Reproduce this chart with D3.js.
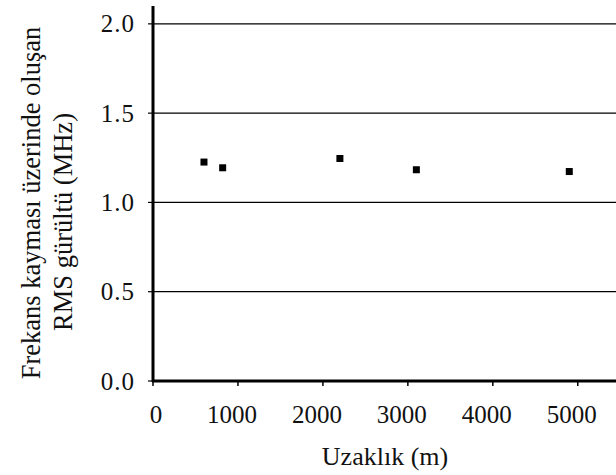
<!DOCTYPE html>
<html><head><meta charset="utf-8">
<script src="https://cdn.jsdelivr.net/npm/d3@7"></script>
<style>body{margin:0;background:#fff}svg{display:block}text{font-family:"Liberation Serif","Times New Roman",serif;fill:#111}</style>
</head><body><svg id="c" width="616" height="475"></svg>
<script>
const distances = [600, 820, 2200, 3100, 4900];
const rmsNoise = [1.226, 1.194, 1.246, 1.183, 1.173];
const xTicks = [0, 1000, 2000, 3000, 4000, 5000];
const yTicks = [0.0, 0.5, 1.0, 1.5, 2.0];
const xTitle = "Uzaklık (m)";
const yTitleLines = ["Frekans kayması üzerinde oluşan", "RMS gürültü (MHz)"];

const svg = d3.select("#c");
const x = d3.scaleLinear().domain([0, 5450]).range([153, 616]);
const y = d3.scaleLinear().domain([0, 2.1]).range([381, 6]);

// gridlines
svg.append("g").selectAll("line").data(yTicks.filter(d => d > 0)).join("line")
  .attr("x1", x(0)).attr("x2", 616).attr("y1", d => y(d)).attr("y2", d => y(d))
  .attr("stroke", "#000").attr("stroke-width", 1.2);

// y ticks
svg.append("g").selectAll("line").data(yTicks).join("line")
  .attr("x1", x(0) - 5).attr("x2", x(0)).attr("y1", d => y(d)).attr("y2", d => y(d))
  .attr("stroke", "#000").attr("stroke-width", 1.2);
svg.append("g").selectAll("text").data(yTicks).join("text")
  .attr("x", 135).attr("y", d => y(d) + 8.5).attr("text-anchor", "end")
  .attr("font-size", 25).attr("letter-spacing", 1).text(d => d.toFixed(1));

// x ticks
svg.append("g").selectAll("line").data(xTicks).join("line")
  .attr("x1", d => x(d)).attr("x2", d => x(d)).attr("y1", y(0)).attr("y2", y(0) + 5)
  .attr("stroke", "#000").attr("stroke-width", 1.5);
svg.append("g").selectAll("text").data(xTicks).join("text")
  .attr("x", d => d === 0 ? x(d) + 3 : x(d) - 6).attr("y", 423).attr("text-anchor", "middle")
  .attr("font-size", 25).text(d => String(d));

// axes lines
svg.append("line").attr("x1", x(0)).attr("x2", x(0)).attr("y1", y(2.1)).attr("y2", y(0) + 1)
  .attr("stroke", "#000").attr("stroke-width", 3);
svg.append("line").attr("x1", x(0) - 1).attr("x2", 616).attr("y1", y(0)).attr("y2", y(0))
  .attr("stroke", "#000").attr("stroke-width", 3);

// points
const s = 7;
svg.append("g").selectAll("rect").data(distances).join("rect")
  .attr("x", (d) => x(d) - s / 2).attr("y", (d, i) => y(rmsNoise[i]) - s / 2)
  .attr("width", s).attr("height", s).attr("fill", "#000");

// titles
svg.append("text").attr("x", 385).attr("y", 465).attr("text-anchor", "middle")
  .attr("font-size", 26).text(xTitle);
const yCenters = [[31, 203], [63, 222]];
yTitleLines.forEach((t, i) => {
  svg.append("text").attr("transform", `translate(${yCenters[i][0]},${yCenters[i][1]}) rotate(-90)`)
    .attr("text-anchor", "middle").attr("dy", "0.35em").attr("font-size", 26.5).text(t);
});
</script></body></html>
